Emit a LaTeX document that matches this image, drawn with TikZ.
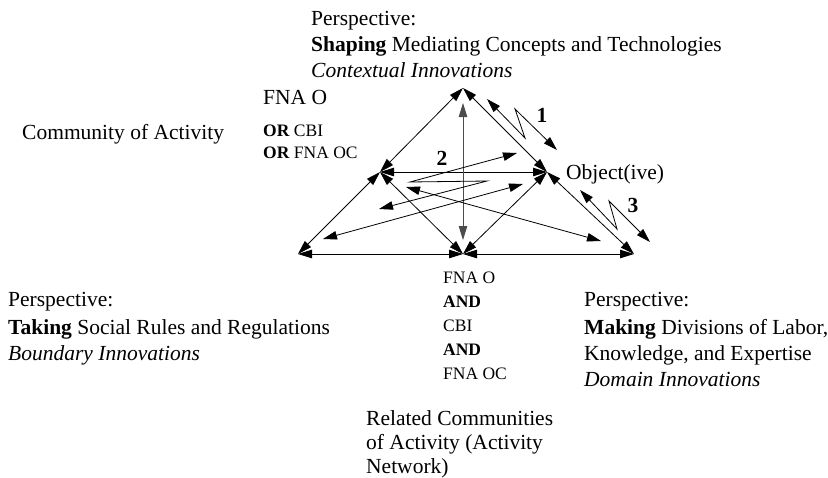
\documentclass[tikz,border=0pt]{standalone}
\usepackage{fontspec}
\setmainfont{Liberation Serif}
\usetikzlibrary{arrows.meta}
\tikzset{
  tip/.tip={Triangle[length=14pt,width=8.5pt]},
  link/.style={line width=0.8pt, line join=miter, tip-tip},
  vlink/.style={link, draw=black!70},
  main/.style={anchor=base west, inner sep=0pt, font=\fontsize{21.5}{26}\selectfont},
  small/.style={anchor=base west, inner sep=0pt, font=\fontsize{17.5}{23}\selectfont},
  num/.style={anchor=base, inner sep=0pt, font=\fontsize{21.5}{26}\selectfont\bfseries},
}
\begin{document}
\begin{tikzpicture}[x=1pt,y=-1pt]
\useasboundingbox (0,0) rectangle (828,477);

% triangle corners
\coordinate (T)  at (463,88);
\coordinate (L)  at (380,172);
\coordinate (O)  at (547,172);
\coordinate (BL) at (298,254);
\coordinate (BM) at (463,254);
\coordinate (BR) at (634,254);

% free ends of the inner connectors
\coordinate (vtop) at (463,103);
\coordinate (vbot) at (463,240);
\coordinate (la)   at (406,187);
\coordinate (lb)   at (601,241);
\coordinate (ma)   at (523,184);
\coordinate (mb)   at (323,239);

% zigzag exchanges 1, 2, 3
\coordinate (z1a) at (487,99);
\coordinate (z1b) at (525,138);
\coordinate (z1c) at (515,109);
\coordinate (z1d) at (557,150);
\coordinate (z2a) at (517,153);
\coordinate (z2b) at (410,182);
\coordinate (z2c) at (487,181);
\coordinate (z2d) at (379,209);
\coordinate (z3a) at (580,190);
\coordinate (z3b) at (617,229);
\coordinate (z3c) at (609,201);
\coordinate (z3d) at (650,242);

% outer edges
\draw[link] (T) -- (L);
\draw[link] (T) -- (O);
\draw[link] (L) -- (O);
\draw[link] (L) -- (BL);
\draw[link] (L) -- (BM);
\draw[link] (O) -- (BM);
\draw[link] (O) -- (BR);
\draw[link] (BL) -- (BM);
\draw[link] (BM) -- (BR);

% inner connectors
\draw[vlink] (vtop) -- (vbot);
\draw[link] (la) -- (lb);
\draw[link] (ma) -- (mb);

\draw[link] (z1a) -- (z1b) -- (z1c) -- (z1d);
\draw[link] (z2a) -- (z2b) -- (z2c) -- (z2d);
\draw[link] (z3a) -- (z3b) -- (z3c) -- (z3d);

\node[num] (n1) at (542,122) {1};
\node[num] (n2) at (442,165) {2};
\node[num] (n3) at (633,212) {3};

% top perspective
\node[main] (tp1) at (311,25) {Perspective:};
\node[main] (tp2) at (311,51) {\textbf{Shaping} Mediating Concepts and Technologies};
\node[main] (tp3) at (311,77) {\textit{Contextual Innovations}};

% community of activity
\node[main] (fna) at (263,104) {FNA O};
\node[small] (or1) at (263,136) {\textbf{OR} CBI};
\node[small] (or2) at (263,158) {\textbf{OR} FNA OC};
\node[main] (coa) at (22,139) {Community of Activity};

\node[main] (obj) at (566,179) {Object(ive)};

% bottom left perspective
\node[main] (bl1) at (8,306) {Perspective:};
\node[main] (bl2) at (8,334) {\textbf{Taking} Social Rules and Regulations};
\node[main] (bl3) at (8,360) {\textit{Boundary Innovations}};

% bottom right perspective
\node[main] (br1) at (584,306) {Perspective:};
\node[main] (br2) at (584,334) {\textbf{Making} Divisions of Labor,};
\node[main] (br3) at (584,360) {Knowledge, and Expertise};
\node[main] (br4) at (584,386) {\textit{Domain Innovations}};

% activity network
\node[small] (an1) at (443,283) {FNA O};
\node[small] (an2) at (443,307) {\textbf{AND}};
\node[small] (an3) at (443,331) {CBI};
\node[small] (an4) at (443,355) {\textbf{AND}};
\node[small] (an5) at (443,379) {FNA OC};

\node[main] (rc1) at (366,425) {Related Communities};
\node[main] (rc2) at (366,449) {of Activity (Activity};
\node[main] (rc3) at (366,473) {Network)};
\end{tikzpicture}
\end{document}
